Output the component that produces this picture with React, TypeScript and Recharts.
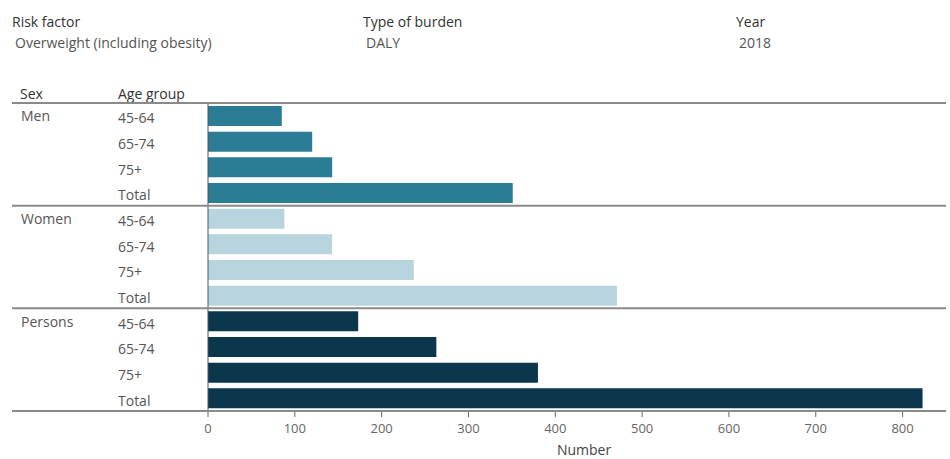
import { Bar, BarChart, Cell, XAxis, YAxis, Label } from 'recharts';

const sexGroups = ['Men', 'Women', 'Persons'];
const ageGroups = ['45-64', '65-74', '75+', 'Total'];
const menValues = [85, 120, 143, 351];
const womenValues = [88, 143, 237, 471];
const personsValues = [173, 263, 380, 823];
const xTicks = [0, 100, 200, 300, 400, 500, 600, 700, 800];

const groupColors = ['#2b7c95', '#b8d5df', '#0b374d'];
const valuesBySex = [menValues, womenValues, personsValues];

const rows = sexGroups.flatMap((sex, gi) =>
  ageGroups.map((age, ai) => ({
    key: `${sex}|${age}`,
    sex,
    age,
    first: ai === 0,
    value: valuesBySex[gi][ai],
    fill: groupColors[gi],
  }))
);

const W = 950;
const H = 459;
const AXIS_H = 48;
const M = { top: 103, right: 4, bottom: 0, left: 0 };
const band = (H - M.top - AXIS_H) / rows.length;
const font = '"Open Sans", sans-serif';

const RowTick = (props: any) => {
  const { y, payload } = props;
  const row = rows[payload.index];
  const last = payload.index === rows.length - 1;
  return (
    <g>
      {row.first && (
        <line x1={12} x2={W - M.right} y1={y - band / 2} y2={y - band / 2} stroke="#8a8a8a" strokeWidth={2} />
      )}
      {last && (
        <line x1={12} x2={W - M.right} y1={y + band / 2} y2={y + band / 2} stroke="#8a8a8a" strokeWidth={2} />
      )}
      {row.first && (
        <text x={21} y={y} dominantBaseline="central" fontSize={14} fill="#555" fontFamily={font}>
          {row.sex}
        </text>
      )}
      <text x={118} y={y + 2} dominantBaseline="central" fontSize={14} fill="#555" fontFamily={font}>
        {row.age}
      </text>
    </g>
  );
};

const headerLabel = { position: 'absolute' as const, fontSize: 14, color: '#333', fontFamily: font, whiteSpace: 'nowrap' as const };
const headerValue = { ...headerLabel, color: '#555' };

export default function App() {
  return (
    <div style={{ position: 'absolute', left: 0, top: 0, width: W, height: H, background: '#fff' }}>
      <div style={{ ...headerLabel, left: 12, top: 12 }}>Risk factor</div>
      <div style={{ ...headerValue, left: 15, top: 33 }}>Overweight (including obesity)</div>
      <div style={{ ...headerLabel, left: 363, top: 12 }}>Type of burden</div>
      <div style={{ ...headerValue, left: 366, top: 33 }}>DALY</div>
      <div style={{ ...headerLabel, left: 736, top: 12 }}>Year</div>
      <div style={{ ...headerValue, left: 739, top: 33 }}>2018</div>
      <div style={{ ...headerLabel, left: 20, top: 84 }}>Sex</div>
      <div style={{ ...headerLabel, left: 118, top: 84 }}>Age group</div>
      <div style={{ position: 'absolute', left: 0, top: 0 }}>
        <BarChart width={W} height={H} data={rows} layout="vertical" margin={M} barCategoryGap={3}>
          <XAxis
            type="number"
            domain={[0, 850]}
            ticks={xTicks}
            height={AXIS_H}
            axisLine={false}
            tickLine={{ stroke: '#666' }}
            tickSize={6}
            tickMargin={7}
            tick={{ fontSize: 13, fill: '#666', fontFamily: font }}
          >
            <Label value="Number" position="insideBottom" offset={4} dx={7} fontSize={14} fill="#444" fontFamily={font} />
          </XAxis>
          <YAxis
            type="category"
            dataKey="key"
            width={208}
            interval={0}
            tickLine={false}
            axisLine={{ stroke: '#555' }}
            tick={<RowTick />}
          />
          <Bar dataKey="value" isAnimationActive={false}>
            {rows.map((r) => (
              <Cell key={r.key} fill={r.fill} />
            ))}
          </Bar>
        </BarChart>
      </div>
    </div>
  );
}
